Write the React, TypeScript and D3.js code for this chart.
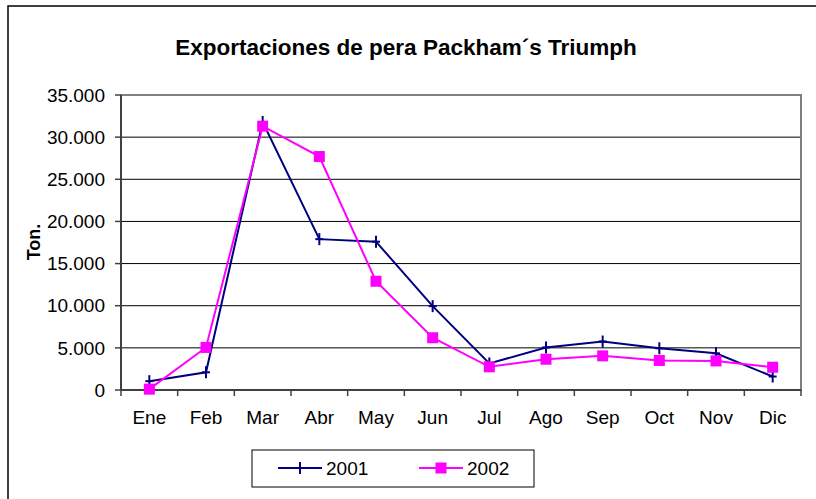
import * as d3 from "d3";

const WIDTH = 816;
const HEIGHT = 499;
const PLOT = { left: 121, top: 95, right: 801, bottom: 390 };

const months = ["Ene", "Feb", "Mar", "Abr", "May", "Jun", "Jul", "Ago", "Sep", "Oct", "Nov", "Dic"];
const values2001 = [1050, 2100, 31800, 17900, 17600, 9950, 3150, 5050, 5750, 4950, 4350, 1600];
const values2002 = [100, 5050, 31300, 27700, 12900, 6200, 2750, 3650, 4050, 3500, 3450, 2700];
const yTicks = [0, 5000, 10000, 15000, 20000, 25000, 30000, 35000];

const FONT = "'Liberation Sans', Arial, Helvetica, sans-serif";
const NAVY = "#000080";
const MAGENTA = "#FF00FF";

const esLocale = d3.formatLocale({ decimal: ",", thousands: ".", grouping: [3], currency: ["", "€"] });
const fmt = esLocale.format(",d");

export default function App() {
    // Scales
    const xBand = d3.scaleBand<string>().domain(months).range([PLOT.left, PLOT.right]).padding(0);
    const xCenter = (m: string) => (xBand(m) ?? 0) + xBand.bandwidth() / 2;
    const yScale = d3.scaleLinear().domain([0, 35000]).range([PLOT.bottom, PLOT.top]);

    const line = d3
        .line<number>()
        .x((_, i) => xCenter(months[i]))
        .y((d) => yScale(d));

    const boundaries = d3.range(months.length + 1).map((i) => PLOT.left + i * xBand.bandwidth());

    return (
        <div style={{ position: "fixed", left: 0, top: 0 }}>
            <svg width={WIDTH} height={HEIGHT} style={{ display: "block", background: "white" }} fontFamily={FONT}>
                {/* outer chart border */}
                <rect x={8} y={6} width={WIDTH} height={HEIGHT} fill="white" stroke="#000" strokeWidth={1.5} />

                <text x={406} y={55} textAnchor="middle" fontSize={22.5} fontWeight="bold" fill="#000">
                    Exportaciones de pera Packham´s Triumph
                </text>

                {/* gridlines */}
                {yTicks.slice(1).map((t) => (
                    <line key={t} x1={PLOT.left} x2={PLOT.right} y1={yScale(t)} y2={yScale(t)} stroke="#000" strokeWidth={1} />
                ))}

                {/* plot border */}
                <rect
                    x={PLOT.left}
                    y={PLOT.top}
                    width={PLOT.right - PLOT.left}
                    height={PLOT.bottom - PLOT.top}
                    fill="none"
                    stroke="#808080"
                    strokeWidth={2}
                />

                {/* y axis */}
                <line x1={PLOT.left} x2={PLOT.left} y1={PLOT.top} y2={PLOT.bottom} stroke="#404040" strokeWidth={2} />
                {yTicks.map((t) => (
                    <g key={t}>
                        <line x1={PLOT.left - 6} x2={PLOT.left} y1={yScale(t)} y2={yScale(t)} stroke="#404040" strokeWidth={1.5} />
                        <text x={105} y={yScale(t)} dy="0.35em" textAnchor="end" fontSize={19} fill="#000">
                            {fmt(t)}
                        </text>
                    </g>
                ))}

                {/* x axis */}
                <line x1={PLOT.left} x2={PLOT.right} y1={PLOT.bottom} y2={PLOT.bottom} stroke="#404040" strokeWidth={2} />
                {boundaries.map((bx, i) => (
                    <line key={i} x1={bx} x2={bx} y1={PLOT.bottom} y2={PLOT.bottom + 6} stroke="#404040" strokeWidth={1.5} />
                ))}
                {months.map((m) => (
                    <text key={m} x={xCenter(m)} y={424} textAnchor="middle" fontSize={19} fill="#000">
                        {m}
                    </text>
                ))}

                <text
                    transform={`translate(40,242) rotate(-90)`}
                    textAnchor="middle"
                    fontSize={18}
                    fontWeight="bold"
                    fill="#000"
                >
                    Ton.
                </text>

                {/* series 2001 */}
                <path d={line(values2001) ?? ""} fill="none" stroke={NAVY} strokeWidth={2} />
                {values2001.map((v, i) => {
                    const cx = xCenter(months[i]);
                    const cy = yScale(v);
                    return (
                        <g key={i} stroke={NAVY} strokeWidth={2}>
                            <line x1={cx} x2={cx} y1={cy - 6} y2={cy + 6} />
                            <line x1={cx - 4} x2={cx + 4} y1={cy} y2={cy} />
                        </g>
                    );
                })}

                {/* series 2002 */}
                <path d={line(values2002) ?? ""} fill="none" stroke={MAGENTA} strokeWidth={2} />
                {values2002.map((v, i) => (
                    <rect key={i} x={xCenter(months[i]) - 5.5} y={yScale(v) - 5.5} width={11} height={11} fill={MAGENTA} />
                ))}

                {/* legend */}
                <rect x={252} y={450} width={282} height={37} fill="white" stroke="#000" strokeWidth={1} />
                <g stroke={NAVY} strokeWidth={2}>
                    <line x1={278} x2={322} y1={468} y2={468} />
                    <line x1={300} x2={300} y1={462} y2={474} />
                </g>
                <text x={326} y={468} dy="0.35em" fontSize={19} fill="#000">
                    2001
                </text>
                <line x1={419} x2={463} y1={468} y2={468} stroke={MAGENTA} strokeWidth={2} />
                <rect x={435.5} y={462.5} width={11} height={11} fill={MAGENTA} />
                <text x={467} y={468} dy="0.35em" fontSize={19} fill="#000">
                    2002
                </text>
            </svg>
        </div>
    );
}
